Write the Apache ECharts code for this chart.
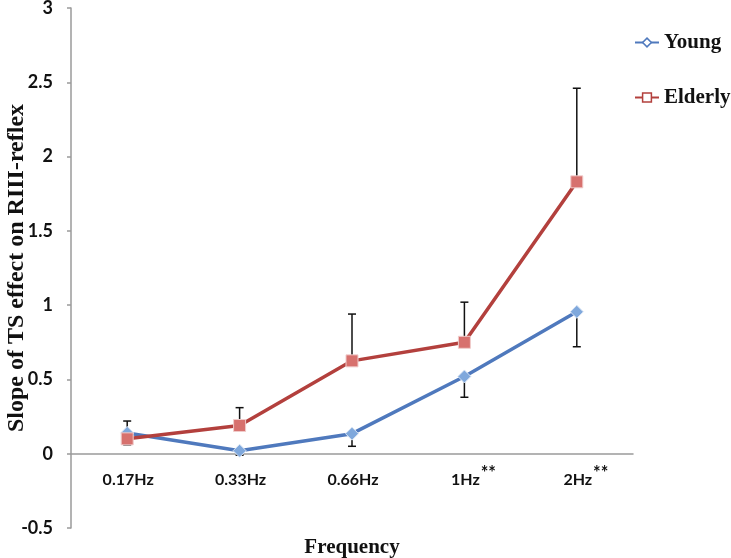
<!DOCTYPE html>
<html><head><meta charset="utf-8">
<script src="https://cdn.jsdelivr.net/npm/echarts@6/dist/echarts.min.js"></script>
<style>html,body{margin:0;padding:0;background:#fff}#c{width:731px;height:558px}</style>
</head><body><div id="c"></div>
<script>
var categories = ['0.17Hz', '0.33Hz', '0.66Hz', '1Hz', '2Hz'];
var sigMarks = ['', '', '', '**', '**'];
var youngValues = [0.14, 0.02, 0.135, 0.52, 0.955];
var youngErrLow = [0.06, -0.01, 0.05, 0.38, 0.72];
var elderlyValues = [0.10, 0.19, 0.625, 0.75, 1.83];
var elderlyErrHigh = [0.22, 0.31, 0.94, 1.02, 2.46];
var yTicks = { min: -0.5, max: 3, interval: 0.5 };

var gridTop = 8, gridBottom = 30, chartH = 558;
var plotH = chartH - gridTop - gridBottom;
// the x axis crosses at value 0: shift it up from the bottom of the grid
var zeroOffset = -plotH * (0 - yTicks.min) / (yTicks.max - yTicks.min);

var chart = echarts.init(document.getElementById('c'), null, { renderer: 'canvas' });

function errData(vals, ends) {
  return vals.map(function (v, i) { return [i, v, ends[i]]; });
}
function errRender(params, api) {
  var i = api.value(0);
  var p0 = api.coord([i, api.value(1)]);
  var p1 = api.coord([i, api.value(2)]);
  var hw = 4;
  var st = { stroke: '#111', lineWidth: 1.5 };
  return {
    type: 'group',
    children: [
      { type: 'line', shape: { x1: p0[0], y1: p0[1], x2: p1[0], y2: p1[1] }, style: st },
      { type: 'line', shape: { x1: p1[0] - hw, y1: p1[1], x2: p1[0] + hw, y2: p1[1] }, style: st }
    ]
  };
}

var option = {
  animation: false,
  backgroundColor: '#fff',
  grid: { left: 71, right: 98, top: gridTop, bottom: gridBottom, containLabel: false, outerBoundsMode: 'none' },
  legend: {
    orient: 'vertical',
    left: 629,
    top: 27,
    itemWidth: 24,
    itemHeight: 11,
    itemGap: 34,
    textStyle: { fontFamily: 'Liberation Serif', fontWeight: 'bold', fontSize: 21, color: '#111' },
    data: [
      { name: 'Young', itemStyle: { color: '#fff', borderColor: '#4f79bd', borderWidth: 1.5 } },
      { name: 'Elderly', itemStyle: { color: '#fff', borderColor: '#b3403d', borderWidth: 1.5 } }
    ]
  },
  xAxis: {
    type: 'category',
    data: categories,
    boundaryGap: true,
    offset: zeroOffset,
    name: 'Frequency',
    nameLocation: 'middle',
    nameGap: 83,
    nameMoveOverlap: false,
    nameTextStyle: { fontFamily: 'Liberation Serif', fontWeight: 'bold', fontSize: 21, color: '#111' },
    axisLine: { onZero: false, lineStyle: { color: '#9a9a9a', width: 1.5 } },
    axisTick: { show: false },
    splitLine: { show: false },
    axisLabel: {
      margin: 10,
      interval: 0,
      formatter: function (v, i) {
        return '{p|}{a|' + v + '}' + '{s|' + sigMarks[i] + '}';
      },
      rich: {
        p: { width: 19 },
        a: { fontFamily: 'Lato', fontWeight: 'bold', fontSize: 16, color: '#111', lineHeight: 32 },
        s: { fontFamily: 'Lato', fontWeight: 'bold', fontSize: 18, color: '#111', lineHeight: 14, verticalAlign: 'top', width: 17, padding: [0, 0, 0, 0] }
      }
    }
  },
  yAxis: {
    type: 'value',
    min: yTicks.min,
    max: yTicks.max,
    interval: yTicks.interval,
    name: 'Slope of TS effect on RIII-reflex',
    nameLocation: 'middle',
    nameGap: 42,
    nameMoveOverlap: false,
    nameTextStyle: { fontFamily: 'Liberation Serif', fontWeight: 'bold', fontSize: 24, color: '#111' },
    axisLine: { show: true, lineStyle: { color: '#9a9a9a', width: 1.5 } },
    axisTick: { show: true, length: 4, lineStyle: { color: '#9a9a9a', width: 1.5 } },
    splitLine: { show: false },
    axisLabel: { fontFamily: 'Lato', fontWeight: 'bold', fontSize: 18, color: '#111', margin: 18 }
  },
  series: [
    {
      name: 'YoungErr', type: 'custom', z: 1,
      renderItem: errRender, data: errData(youngValues, youngErrLow),
      encode: { x: 0, y: [1, 2] }, silent: true
    },
    {
      name: 'ElderlyErr', type: 'custom', z: 1,
      renderItem: errRender, data: errData(elderlyValues, elderlyErrHigh),
      encode: { x: 0, y: [1, 2] }, silent: true
    },
    {
      name: 'Young', type: 'line', z: 3, data: youngValues,
      symbol: 'diamond', symbolSize: 13,
      lineStyle: { color: '#4f79bd', width: 3.5 },
      itemStyle: { color: '#7fa8dc', borderColor: '#dbe6f5', borderWidth: 1 }
    },
    {
      name: 'Elderly', type: 'line', z: 4, data: elderlyValues,
      symbol: 'rect', symbolSize: 12,
      lineStyle: { color: '#b3403d', width: 3.5 },
      itemStyle: { color: '#d7716e', borderColor: '#f0cccb', borderWidth: 1 }
    }
  ]
};
chart.setOption(option);
</script>
</body></html>
